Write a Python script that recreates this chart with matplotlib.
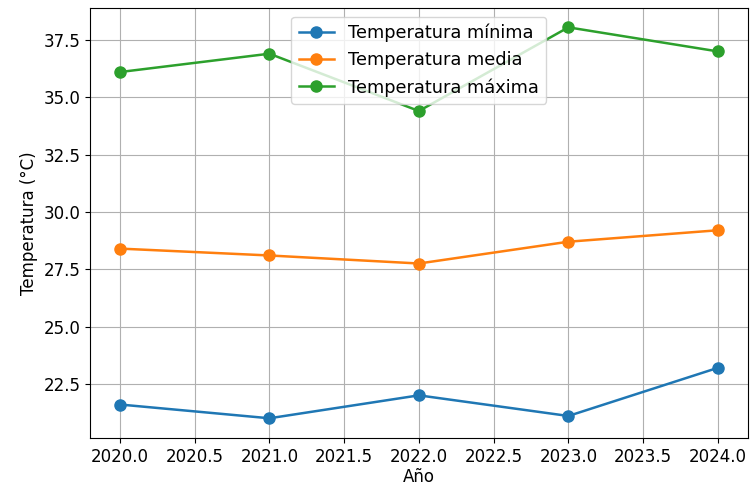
import matplotlib
matplotlib.use("Agg")
import matplotlib.pyplot as plt

# datos
anios = [2020, 2021, 2022, 2023, 2024]
temp_min = [21.6, 21.0, 22.0, 21.1, 23.2]
temp_media = [28.4, 28.1, 27.75, 28.7, 29.2]
temp_max = [36.1, 36.9, 34.4, 38.05, 37.0]

plt.rcParams['font.size'] = 12

fig, ax = plt.subplots(figsize=(7.5, 4.87), dpi=100)
ax.plot(anios, temp_min, marker='o', markersize=8, linewidth=1.8, label='Temperatura mínima')
ax.plot(anios, temp_media, marker='o', markersize=8, linewidth=1.8, label='Temperatura media')
ax.plot(anios, temp_max, marker='o', markersize=8, linewidth=1.8, label='Temperatura máxima')
ax.set_xlabel('Año', labelpad=2)
ax.set_ylabel('Temperatura (°C)')
ax.grid(True)
ax.legend(loc='upper center', fontsize=12.8)
fig.subplots_adjust(left=0.12, right=0.997, top=0.984, bottom=0.101)
fig.savefig('out.png')
